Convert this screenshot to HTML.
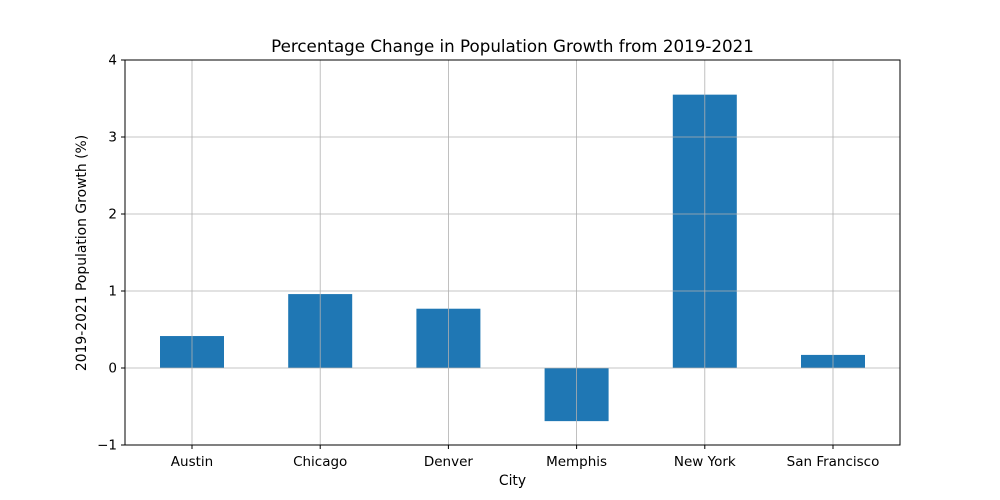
<!DOCTYPE html>
<html><head><meta charset="utf-8"><style>body{margin:0;background:#fff}svg{display:block;font-family:"DejaVu Sans","Liberation Sans",sans-serif}</style></head>
<body>
<svg id="chart" width="1000" height="500">
<rect width="1000" height="500" fill="#fff"/>
<text x="512.5" y="52" text-anchor="middle" font-size="16.7">Percentage Change in Population Growth from 2019-2021</text>
<text x="512.5" y="485" text-anchor="middle" font-size="13.9">City</text>
<text transform="translate(86,253) rotate(-90)" text-anchor="middle" font-size="13.9">2019-2021 Population Growth (%)</text>
<g id="bars"></g><g id="grid"></g><g id="ticks"></g>
<rect x="125" y="60" width="775" height="385" fill="none" stroke="#000" stroke-width="1"/>
</svg>
<script>
const categories=["Austin","Chicago","Denver","Memphis","New York","San Francisco"];
const values=[0.415,0.96,0.77,-0.69,3.55,0.17];
const yTicks=[-1,0,1,2,3,4];
const yTickLabels=["\u22121","0","1","2","3","4"];
const NS="http://www.w3.org/2000/svg";
const L=125,R=900,T=60,B=445,yMin=-1,yMax=4;
const y=v=>B-(v-yMin)/(yMax-yMin)*(B-T);
const step=128.2,bw=64;
const x=i=>(L+R)/2+(i-(categories.length-1)/2)*step;
function mk(tag,attrs,parent){const e=document.createElementNS(NS,tag);for(const k in attrs)e.setAttribute(k,attrs[k]);parent.appendChild(e);return e;}
const gb=document.getElementById('bars'),gg=document.getElementById('grid'),gt=document.getElementById('ticks');
values.forEach((v,i)=>{
 const r=mk('rect',{x:x(i)-bw/2,y:Math.min(y(v),y(0)),width:bw,height:Math.abs(y(v)-y(0)),fill:'#1f77b4'},gb);
 
 
});
categories.forEach((c,i)=>{
 const l=mk('line',{x1:x(i),x2:x(i),y1:T,y2:B,stroke:'#b0b0b0','stroke-width':0.8},gg);
 
 
 mk('line',{x1:x(i),x2:x(i),y1:B,y2:B+4,stroke:'#000'},gt);
 const t=mk('text',{x:x(i),y:B+21,'text-anchor':'middle','font-size':13.5},gt);
 t.textContent=c;
 
 
});
yTicks.forEach((v,i)=>{
 const l=mk('line',{x1:L,x2:R,y1:y(v),y2:y(v),stroke:'#b0b0b0','stroke-width':0.8},gg);
 
 
 mk('line',{x1:L-4,x2:L,y1:y(v),y2:y(v),stroke:'#000'},gt);
 const t=mk('text',{x:L-8,y:y(v)+4.5,'text-anchor':'end','font-size':13.5},gt);
 t.textContent=yTickLabels[i];
 
 
});
</script>
</body></html>
